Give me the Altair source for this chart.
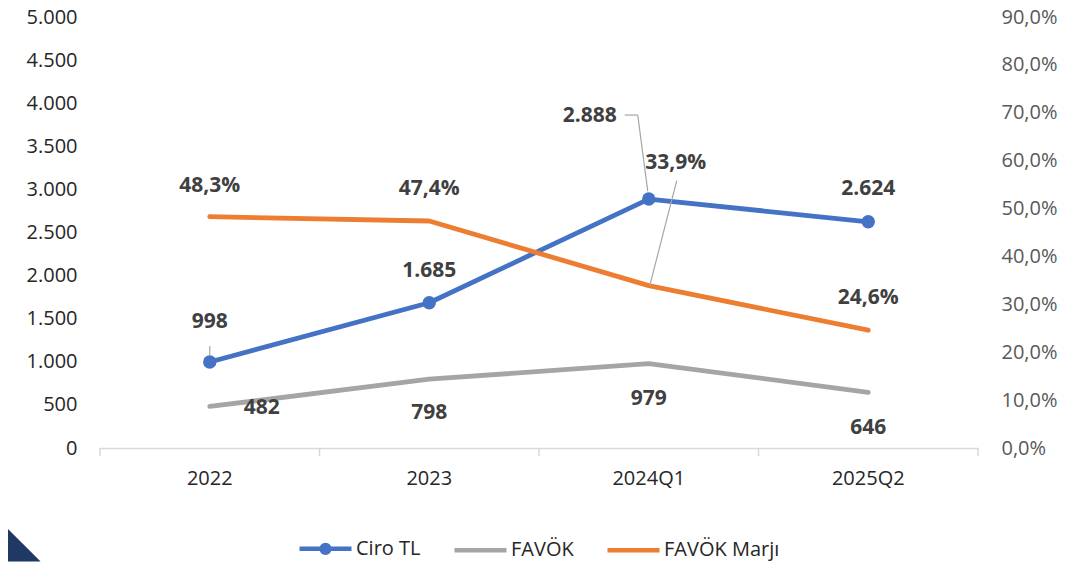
import altair as alt
import pandas as pd

periods = ["2022", "2023", "2024Q1", "2025Q2"]
ciro = [998, 1685, 2888, 2624]
favok = [482, 798, 979, 646]
marj = [0.483, 0.474, 0.339, 0.246]
series_names = ["Ciro TL", "FAVÖK", "FAVÖK Marjı"]
colors = ["#4472C4", "#A5A5A5", "#ED7D31"]
left_ticks = list(range(0, 5001, 500))
right_ticks = [i / 10 for i in range(10)]


def tr_int(v):
    return f"{v:,}".replace(",", ".")


def tr_pct(v):
    return f"{v * 100:.1f}%".replace(".", ",")


rows = []
for p, c, f, m in zip(periods, ciro, favok, marj):
    rows.append(dict(period=p, series="Ciro TL", value=c, label=tr_int(c)))
    rows.append(dict(period=p, series="FAVÖK", value=f, label=tr_int(f)))
    rows.append(dict(period=p, series="FAVÖK Marjı", value=m, label=tr_pct(m)))
df = pd.DataFrame(rows)

W, H = 878, 431
FONT = "Open Sans"
LBL = "#404040"
AX = "#262626"

x_enc = alt.X(
    "period:N", sort=periods,
    scale=alt.Scale(type="band", paddingInner=0, paddingOuter=0),
    axis=alt.Axis(title=None, labelAngle=0, ticks=False, domainColor="#D9D9D9",
                  domainWidth=1.5, labelFontSize=20, labelColor=AX, labelFont=FONT,
                  labelPadding=20, grid=False),
)
y_left = alt.Y(
    "value:Q", scale=alt.Scale(domain=[0, 5000], nice=False),
    axis=alt.Axis(values=left_ticks, title=None, domain=False, ticks=False, grid=False,
                  labelPadding=23, labelFontSize=20, labelColor=AX, labelFont=FONT,
                  labelExpr="replace(format(datum.value, ','), ',', '.')"),
)
y_right = alt.Y(
    "value:Q", scale=alt.Scale(domain=[0, 0.9], nice=False),
    axis=alt.Axis(values=right_ticks, title=None, domain=False, ticks=False, grid=False,
                  orient="right", labelPadding=23, labelFontSize=20, labelColor="#595959",
                  labelFont=FONT,
                  labelExpr="replace(format(datum.value, '.1%'), '.', ',')"),
)

base = alt.Chart(df)


def sel(series, period=None):
    expr = f"datum.series == '{series}'"
    if period is not None:
        expr += f" && datum.period == '{period}'"
    return expr


# label offsets (dx, dy) per series/period
offsets = {
    "Ciro TL": {"2022": (0, -40), "2023": (0, -32), "2024Q1": (-59, -83), "2025Q2": (0, -33)},
    "FAVÖK": {"2022": (52, 2), "2023": (0, 34), "2024Q1": (0, 35), "2025Q2": (0, 36)},
    "FAVÖK Marjı": {"2022": (0, -31), "2023": (0, -32), "2024Q1": (27, -123), "2025Q2": (0, -32)},
}


def text_layers(series, yenc):
    out = []
    for p in periods:
        dx, dy = offsets[series][p]
        out.append(
            base.transform_filter(sel(series, p))
            .mark_text(font=FONT, fontSize=21, fontWeight="bold", color=LBL,
                       dx=dx, dy=dy, baseline="middle", align="center")
            .encode(x=x_enc, y=yenc, text="label:N")
        )
    return out


def leader(series, period, yenc, xo, yo, x2o, y2o):
    return (
        base.transform_filter(sel(series, period))
        .mark_rule(color="#A6A6A6", strokeWidth=1.2,
                   xOffset=xo, yOffset=yo, x2Offset=x2o, y2Offset=y2o)
        .encode(x=x_enc, x2=alt.X2("period:N"), y=yenc, y2=alt.Y2("value:Q"))
    )


line_kw = dict(strokeWidth=4.8, strokeCap="round", strokeJoin="round")

ciro_line = base.transform_filter(sel("Ciro TL")).mark_line(color=colors[0], **line_kw).encode(x=x_enc, y=y_left)
ciro_pts = base.transform_filter(sel("Ciro TL")).mark_circle(size=180, color=colors[0], opacity=1).encode(x=x_enc, y=y_left)
favok_line = base.transform_filter(sel("FAVÖK")).mark_line(color=colors[1], **line_kw).encode(x=x_enc, y=y_left)
marj_line = base.transform_filter(sel("FAVÖK Marjı")).mark_line(color=colors[2], **line_kw).encode(x=x_enc, y=y_right)

path_ciro = "M-1,0H1M0.15,0A0.15,0.15,0,1,1,-0.15,0A0.15,0.15,0,1,1,0.15,0Z"
path_line = "M-1,0H1"
leg = alt.Legend(title=None, orient="none", legendX=197, legendY=503, direction="horizontal",
                 symbolSize=2704, symbolStrokeWidth=4.5, labelFontSize=20, labelFont=FONT,
                 labelColor=AX, columnPadding=24, labelOffset=2)
legend_layer = (
    base.transform_filter("false")
    .mark_point(filled=True, strokeWidth=4.5, opacity=1)
    .encode(
        x=x_enc, y=y_left,
        fill=alt.Fill("series:N", scale=alt.Scale(domain=series_names, range=colors), legend=leg),
        stroke=alt.Stroke("series:N", scale=alt.Scale(domain=series_names, range=colors), legend=leg),
        shape=alt.Shape("series:N", scale=alt.Scale(domain=series_names, range=[path_ciro, path_line, path_line]), legend=leg),
    )
)

# decorative corner triangle (page decoration in the reference)
corner = base.transform_filter(sel("Ciro TL", "2022")).mark_point(
    shape="M-1,-1L1,1L-1,1Z", filled=True, color="#1F3864", opacity=1, size=1100
).encode(x=alt.value(-76), y=alt.value(528))

left_group = alt.layer(
    favok_line, ciro_line, ciro_pts,
    leader("Ciro TL", "2022", y_left, 0, -16, 0, -7),
    leader("Ciro TL", "2024Q1", y_left, -1, -8, -11, -84),
    leader("Ciro TL", "2024Q1", y_left, -11, -84, -24, -84),
    *text_layers("Ciro TL", y_left),
    *text_layers("FAVÖK", y_left),
    legend_layer,
)
right_group = alt.layer(
    marj_line,
    leader("FAVÖK Marjı", "2024Q1", y_right, 1, 0, 28, -105),
    *text_layers("FAVÖK Marjı", y_right),
)

tick_all = base.transform_filter(sel("Ciro TL")).mark_rule(color="#D9D9D9", strokeWidth=1.5).encode(
    x=alt.X("period:N", sort=periods, bandPosition=0), y=alt.value(H), y2=alt.value(H + 8))
tick_end = base.transform_filter(sel("Ciro TL", "2025Q2")).mark_rule(color="#D9D9D9", strokeWidth=1.5).encode(
    x=alt.X("period:N", sort=periods, bandPosition=1), y=alt.value(H), y2=alt.value(H + 8))

chart = (
    alt.layer(left_group, right_group, tick_all, tick_end, corner)
    .resolve_scale(y="independent")
    .properties(width=W, height=H, autosize=alt.AutoSizeParams(type="none"),
                padding={"left": 92, "top": 9, "right": 100, "bottom": 114})
    .configure_view(stroke=None)
)

chart.save("out.html", embed_options={"renderer": "svg", "actions": False})
